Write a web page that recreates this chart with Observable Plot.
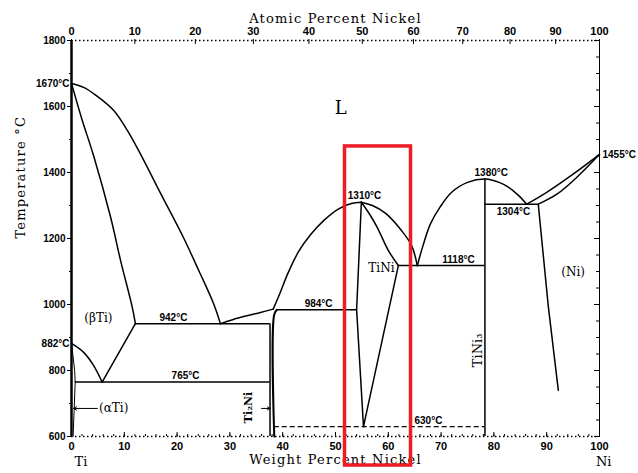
<!DOCTYPE html>
<html><head><meta charset="utf-8">
<script src="https://cdn.jsdelivr.net/npm/d3@7"></script>
<script src="https://cdn.jsdelivr.net/npm/@observablehq/plot@0.6"></script>
<style>body{margin:0;background:#fff}</style>
</head><body><div id="chart"></div>
<script>
// ---- data: [weight % Ni, temperature °C] ----
const liquidusTi = [[0,1670],[2.3,1658],[4.7,1633],[8,1588],[10.6,1527],[12.7,1467],[16.9,1336],[21.2,1203],[24.1,1103],[26.9,1003],[28.2,942]];
const solidusBetaTi = [[0,1670],[2,1560],[4.2,1450],[7.4,1265],[9.3,1133],[11.5,992],[12.1,942]];
const liquidusTi2Ni = [[28.2,942],[30.5,954],[33,965],[35.8,976],[38.2,986]];
const liquidusTiNiLeft = [[38.2,986],[39.5,1035],[41,1095],[43,1160],[45.3,1212],[47.8,1255],[50.6,1290],[53,1306],[54.9,1310]];
const liquidusTiNiRight = [[54.9,1310],[57,1300],[59.5,1276],[62.5,1224],[64.4,1179],[65.5,1118]];
const liquidusTiNi3 = [[65.5,1118],[66.6,1180],[68,1245],[69.8,1295],[72,1340],[75,1370],[78.4,1380],[81,1370],[82.8,1355],[84.7,1330],[86.2,1304]];
const liquidusNi = [[86.2,1304],[90,1340],[95,1395],[100,1455]];
const solidusNi = [[88.4,1304],[92,1335],[96,1390],[100,1455]];
const solvusNi = [[88.4,1304],[90.3,995],[92.2,740]];
const eutectoidCurve = [[0,882],[2.3,855],[4.2,815],[5.8,765]];
const betaSolvus = [[5.8,765],[12.1,942]];
const alphaSolvus = [[0,882],[0.6,800],[0.7,765],[0.5,680],[0.3,600]];
const tiNiLeft = [[54.9,1310],[54.0,984],[55.3,630]];
const tiNiRight = [[54.9,1310],[56.4,1275],[57.9,1234],[60.0,1164],[61.9,1118]];
const tiNiRightLow = [[61.9,1118],[55.3,630]];
const ti2NiRight = [[38.4,600],[38.4,970],[38.9,984]];

const isotherms = [
  {T:942, x1:12.1, x2:37.6},
  {T:765, x1:0.7, x2:37.6},
  {T:984, x1:38.9, x2:54.0},
  {T:1118, x1:61.9, x2:78.3},
  {T:1304, x1:78.3, x2:88.4}
];
const dashedIsotherms = [{T:630, x1:38.4, x2:78.3}];
const verticals = [
  {x:37.6, y1:600, y2:942},
  {x:78.3, y1:600, y2:1380}
];

const tempLabelsAbove = [["942°C",19.3,942],["765°C",21.6,765],["984°C",46.8,984],["1310°C",55.5,1310],["1380°C",79.5,1380],["1118°C",73.3,1118],["630°C",67.6,630]];
const tempLabelsBelow = [["1304°C",83.7,1304]];
const tempLabelsLeft = [["1670°C",1670],["882°C",882]];
const tempLabelsRight = [["1455°C",1455]];
const regionLabels = [["TiNi",58.7,1109],["(Ni)",95,1097],["(βTi)",5.1,958],["(αTi)",8,685]];
const bigLabels = [["L",51,1594]];
const rotatedBold = [["Ti₂Ni",33.5,688]];
const rotatedPlain = [["TiNi₃",77.0,861]];
const arrows = [[4.9,685,0.4,685],[36.0,685,37.6,685]];
const highlightBox = [{x1:51.8, x2:64.3, y1:512, y2:1479}];

const wtTicks = [0,10,20,30,40,50,60,70,80,90,100];
const atTicks = [0,10,20,30,40,50,60,70,80,90,100];
const tempTicks = [600,800,1000,1200,1400,1600,1800];
const tempMinor = [700,900,1100,1300,1500,1700];
const tempMinorRight = d3.range(600,1801,50);
const wtMinor = d3.range(0,101,2);

// atomic % -> weight % Ni (atomic masses Ni 58.69, Ti 47.87)
const MNi = 58.69, MTi = 47.87;
const atToWt = a => 100*a*MNi/(a*MNi + (100-a)*MTi);
const atPos = atTicks.map(atToWt);
const atLabel = new Map(atPos.map((p,i)=>[p, String(atTicks[i])]));

const num = {fontFamily:"Liberation Sans, Arial, sans-serif", fontWeight:"bold", fontSize:10};
const serif = {fontFamily:"DejaVu Serif, serif", fontSize:12};
const titleFont = {fontFamily:"DejaVu Serif, serif", fontSize:13};
const P = d => d[0], Q = d => d[1];
const lineOpts = {x:P, y:Q, stroke:"black", strokeWidth:1.5};

const chart = Plot.plot({
  width:638, height:473,
  marginLeft:71, marginRight:39, marginTop:40, marginBottom:37,
  x:{domain:[0,100], axis:null},
  y:{domain:[600,1800], axis:null},
  style:{background:"white", color:"black"},
  marks:[
    // frame
    Plot.ruleY([1800], {stroke:"black", strokeWidth:1.3, strokeDasharray:"1.5,2.5"}),
    Plot.ruleY([600], {stroke:"black", strokeWidth:1.3, strokeDasharray:"1.5,2.5"}),
    Plot.ruleX([0], {stroke:"black", strokeWidth:2.5}),
    Plot.ruleX([100], {stroke:"black", strokeWidth:1}),
    // axes
    Plot.axisX({anchor:"bottom", ticks:wtTicks, tickSize:0, tickPadding:6, label:null, ...num, fontSize:11}),
    Plot.ruleX(wtTicks, {x:d=>d, y1:600, y2:600, insetTop:-4, insetBottom:-1, stroke:"black"}),
    Plot.ruleX(wtMinor, {x:d=>d, y1:600, y2:600, insetTop:-2, stroke:"black"}),
    Plot.axisX({anchor:"top", ticks:atPos, tickFormat:d=>atLabel.get(d), tickSize:0, tickPadding:6, label:null, ...num, fontSize:11}),
    Plot.ruleX(atPos, {x:d=>d, y1:1800, y2:1800, insetTop:-1, insetBottom:-4, stroke:"black"}),
    Plot.axisY({anchor:"left", ticks:tempTicks, tickSize:4, tickPadding:2, label:null, tickFormat:d=>String(d), ...num}),
    Plot.axisY({anchor:"left", ticks:tempMinor, tickSize:2, label:null, tickFormat:()=>""}),
    Plot.ruleY(tempMinorRight, {y:d=>d, x1:100, x2:100, insetLeft:-3, stroke:"black"}),
    Plot.ruleY(tempTicks, {y:d=>d, x1:100, x2:100, insetLeft:-5, stroke:"black"}),
    // phase boundaries
    Plot.line(liquidusTi, {...lineOpts, curve:"catmull-rom"}),
    Plot.line(solidusBetaTi, {...lineOpts, curve:"catmull-rom"}),
    Plot.line(liquidusTi2Ni, {...lineOpts, curve:"catmull-rom"}),
    Plot.line(liquidusTiNiLeft, {...lineOpts, curve:"catmull-rom"}),
    Plot.line(liquidusTiNiRight, {...lineOpts, curve:"catmull-rom"}),
    Plot.line(liquidusTiNi3, {...lineOpts, curve:"catmull-rom"}),
    Plot.line(liquidusNi, {...lineOpts, curve:"catmull-rom"}),
    Plot.line(solidusNi, {...lineOpts, curve:"catmull-rom"}),
    Plot.line(solvusNi, {...lineOpts}),
    Plot.line(eutectoidCurve, {...lineOpts, curve:"catmull-rom"}),
    Plot.line(betaSolvus, {...lineOpts}),
    Plot.line(alphaSolvus, {...lineOpts, strokeWidth:1}),
    Plot.line(tiNiLeft, {...lineOpts}),
    Plot.line(tiNiRight, {...lineOpts, curve:"catmull-rom"}),
    Plot.line(tiNiRightLow, {...lineOpts}),
    Plot.line(ti2NiRight, {...lineOpts, strokeWidth:2, curve:"catmull-rom"}),
    Plot.ruleY(isotherms, {y:"T", x1:"x1", x2:"x2", stroke:"black", strokeWidth:1.5}),
    Plot.ruleY(dashedIsotherms, {y:"T", x1:"x1", x2:"x2", stroke:"black", strokeWidth:1.3, strokeDasharray:"5,3"}),
    Plot.ruleX(verticals, {x:"x", y1:"y1", y2:"y2", stroke:"black", strokeWidth:1.5}),
    Plot.arrow(arrows, {x1:d=>d[0], y1:d=>d[1], x2:d=>d[2], y2:d=>d[3], stroke:"black", strokeWidth:1, headLength:5}),
    // labels
    Plot.text(tempLabelsAbove, {x:d=>d[1], y:d=>d[2], text:d=>d[0], dy:-6, ...num}),
    Plot.text(tempLabelsBelow, {x:d=>d[1], y:d=>d[2], text:d=>d[0], dy:8, ...num}),
    Plot.text(tempLabelsLeft, {x:0, y:d=>d[1], text:d=>d[0], textAnchor:"end", dx:-2, ...num}),
    Plot.text(tempLabelsRight, {x:100, y:d=>d[1], text:d=>d[0], textAnchor:"start", dx:3, ...num}),
    Plot.text(regionLabels, {x:d=>d[1], y:d=>d[2], text:d=>d[0], ...serif}),
    Plot.text(bigLabels, {x:d=>d[1], y:d=>d[2], text:d=>d[0], ...serif, fontSize:18}),
    Plot.text(rotatedBold, {x:d=>d[1], y:d=>d[2], text:d=>d[0], rotate:-90, ...serif, fontSize:11, fontWeight:"bold"}),
    Plot.text(rotatedPlain, {x:d=>d[1], y:d=>d[2], text:d=>d[0], rotate:-90, ...serif, fontSize:13}),
    // titles
    Plot.text(["Atomic Percent Nickel"], {frameAnchor:"top", dy:-27, ...titleFont}),
    Plot.text(["Weight Percent Nickel"], {frameAnchor:"bottom", dy:27, ...titleFont}),
    Plot.text(["Temperature °C"], {frameAnchor:"left", dx:-51, rotate:-90, ...titleFont}),
    Plot.text(["Ti"], {frameAnchor:"bottom-left", dx:3, dy:29, ...titleFont}),
    Plot.text(["Ni"], {frameAnchor:"bottom-right", dx:12, dy:29, ...titleFont}),
    // highlight box
    Plot.rect(highlightBox, {x1:"x1", x2:"x2", y1:"y1", y2:"y2", fill:"none", stroke:"#ee1c25", strokeWidth:3.5})
  ]
});
d3.select(chart).selectAll("text").filter(function(){
  return ["Atomic Percent Nickel","Weight Percent Nickel","Temperature °C"].includes(this.textContent);
}).attr("letter-spacing","1.2px");
document.getElementById("chart").appendChild(chart);
</script></body></html>
